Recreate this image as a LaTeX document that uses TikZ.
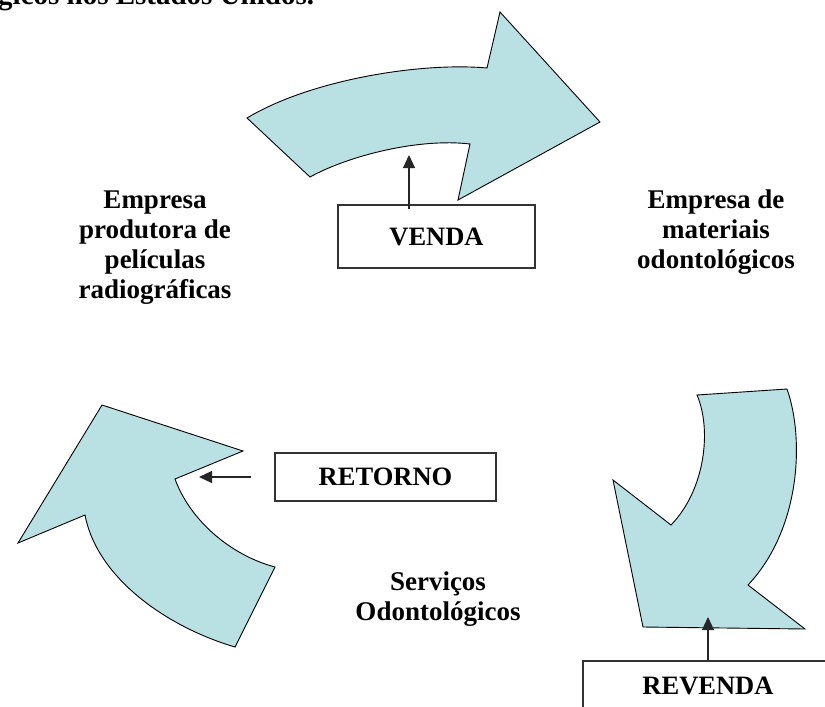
\documentclass[tikz,border=0pt]{standalone}
\usepackage{fontspec}
\setmainfont{Liberation Serif}
\usetikzlibrary{arrows.meta}
\definecolor{arrowfill}{HTML}{B9E0E3}
\begin{document}
\begin{tikzpicture}[x=1pt,y=-1pt,
  bigarrow/.style={fill=arrowfill,draw=black,line width=0.9pt,line join=miter},
  labelbox/.style={draw=black!80,line width=1.5pt,fill=white,inner sep=0pt,font=\fontsize{26.5}{30}\selectfont\bfseries},
  lbl/.style={font=\fontsize{27}{30}\selectfont\bfseries,align=center,inner sep=0pt},
  pointer/.style={-{Triangle[length=13pt,width=12pt]},line width=1.1pt,draw=black!85}]
\useasboundingbox (0,0) rectangle (825,707);
\clip (0,0) rectangle (825,707);

% cut-off caption line at the top
\node[anchor=base west,inner sep=0pt,font=\fontsize{29}{30}\selectfont\bfseries] (cap) at (-2,4) {gicos nos Estados Unidos.};

% top arrow (VENDA)
\draw[bigarrow] (247,118) .. controls (310,80) and (420,62) .. (487,68)
  -- (500,12) -- (600,122) -- (458,200) -- (470,144)
  .. controls (420,138) and (350,155) .. (310,177) -- cycle;

% left arrow (RETORNO)
\draw[bigarrow] (102,405) -- (243,451) -- (175,479)
  .. controls (190,520) and (230,555) .. (275,567)
  -- (235,647) .. controls (167,627) and (97,578) .. (85,515)
  -- (18,543) -- cycle;

% right arrow (REVENDA)
\draw[bigarrow] (697,395) -- (787,389)
  .. controls (805,440) and (800,530) .. (748,585)
  -- (805,629) -- (643,627) -- (613,480) -- (671,525)
  .. controls (705,490) and (712,430) .. (697,395) -- cycle;

% boxes
\node[labelbox,minimum width=197pt,minimum height=63pt] (venda) at (436.5,236.5) {VENDA};
\node[labelbox,minimum width=221pt,minimum height=48pt] (retorno) at (385.5,477) {RETORNO};
\node[labelbox,minimum width=250pt,minimum height=50pt] (revenda) at (708,686) {REVENDA};

% pointers
\coordinate (vtip) at (409,155);
\coordinate (rtip) at (199,477);
\coordinate (rvtip) at (708,617);
\draw[pointer] ([yshift=-5pt]venda.north -| vtip) -- (vtip);
\draw[pointer] ([xshift=-23pt]retorno.west) -- (rtip);
\draw[pointer] (revenda.north -| rvtip) -- (rvtip);

% labels (anchor = baseline of the last line)
\node[lbl,anchor=base] (prod) at (155,298) {Empresa\\produtora de\\películas\\radiográficas};
\node[lbl,anchor=base] (mat) at (716,268) {Empresa de\\materiais\\odontológicos};
\node[lbl,anchor=base] (serv) at (438,620) {Serviços\\Odontológicos};
\end{tikzpicture}
\end{document}
